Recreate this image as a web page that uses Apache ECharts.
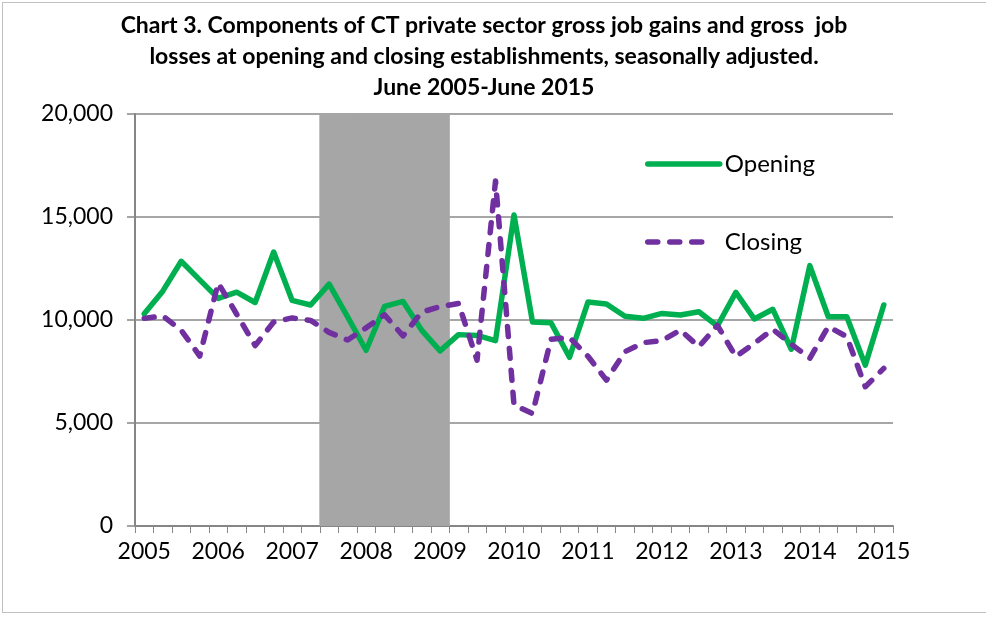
<!DOCTYPE html>
<html>
<head>
<meta charset="utf-8">
<script src="https://cdn.jsdelivr.net/npm/echarts@6/dist/echarts.min.js"></script>
<style>
	html, body { margin: 0; padding: 0; background: #fff; }
	#frame { position: absolute; left: 2px; top: 2px; width: 1000px; height: 609px; border: 1px solid #c0c0c0; }
	#myEchart { position: absolute; left: 0; top: 0; width: 986px; height: 617px; }
</style>
</head>
<body>
<div id="frame"></div>
<div id="myEchart"></div>
<script>
	// quarters, June 2005 - June 2015
	const quarters = [
		'2005-06', '2005-09', '2005-12', '2006-03', '2006-06', '2006-09', '2006-12',
		'2007-03', '2007-06', '2007-09', '2007-12', '2008-03', '2008-06', '2008-09', '2008-12',
		'2009-03', '2009-06', '2009-09', '2009-12', '2010-03', '2010-06', '2010-09', '2010-12',
		'2011-03', '2011-06', '2011-09', '2011-12', '2012-03', '2012-06', '2012-09', '2012-12',
		'2013-03', '2013-06', '2013-09', '2013-12', '2014-03', '2014-06', '2014-09', '2014-12',
		'2015-03', '2015-06'
	]
	const yearLabels = ['2005', '2006', '2007', '2008', '2009', '2010', '2011', '2012', '2013', '2014', '2015']
	const yTicks = [0, 5000, 10000, 15000, 20000]

	// recession shading (Dec 2007 - June 2009)
	const recessionQuarters = ['2007-12', '2008-03', '2008-06', '2008-09', '2008-12', '2009-03', '2009-06']

	const opening = [
		10300, 11400, 12850, 11950, 11050, 11350, 10850, 13300, 10950, 10730,
		11740, 10150, 8530, 10660, 10900, 9510, 8500, 9290, 9250, 9000,
		15100, 9900, 9870, 8190, 10870, 10780, 10180, 10080, 10320, 10240,
		10400, 9710, 11340, 10050, 10520, 8580, 12640, 10160, 10160, 7810,
		10730
	]
	const closing = [
		10080, 10200, 9500, 8250, 11800, 10280, 8760, 9900, 10100, 9980,
		9400, 9030, 9620, 10250, 9230, 10380, 10650, 10800, 8050, 16750,
		5870, 5460, 9060, 9150, 8240, 7080, 8460, 8900, 9000, 9510,
		8700, 9740, 8220, 8870, 9550, 8830, 8140, 9680, 9190, 6760,
		7650
	]

	const yMax = yTicks[yTicks.length - 1]
	const font = 'Lato'
	const lw = 5.5

	const chart = echarts.init(document.getElementById('myEchart'))
	const option = {
		animation: false,
		textStyle: { fontFamily: font },
		title: {
			text: 'Chart 3. Components of CT private sector gross job gains and gross  job\nlosses at opening and closing establishments, seasonally adjusted.\nJune 2005-June 2015',
			left: 479,
			top: 5,
			textAlign: 'center',
			textStyle: { fontFamily: font, fontSize: 23, fontWeight: 'bold', color: '#000', lineHeight: 31 }
		},
		legend: [{
			data: ['Opening'],
			left: 645,
			top: 152,
			padding: 0,
			itemWidth: 72,
			itemHeight: 24,
			itemStyle: { opacity: 0 },
			lineStyle: { width: lw },
			textStyle: { fontFamily: font, fontSize: 24, color: '#000' }
		}, {
			data: ['Closing'],
			left: 645,
			top: 230,
			padding: 0,
			itemWidth: 62,
			itemHeight: 24,
			itemStyle: { opacity: 0 },
			lineStyle: { width: lw },
			textStyle: { fontFamily: font, fontSize: 24, color: '#000', padding: [0, 0, 0, 10] }
		}],
		grid: { left: 135, right: 93, top: 114, bottom: 91 },
		xAxis: {
			type: 'category',
			data: quarters,
			boundaryGap: true,
			axisLine: { lineStyle: { color: '#868686', width: 2 } },
			axisTick: { show: true, interval: 0, length: 7, lineStyle: { color: '#868686', width: 1 } },
			axisLabel: {
				interval: 0,
				margin: 14,
				fontSize: 23,
				color: '#000',
				formatter: (v, idx) => idx % 4 === 0 ? yearLabels[idx / 4] : ''
			}
		},
		yAxis: {
			type: 'value',
			min: yTicks[0],
			max: yMax,
			interval: yTicks[1] - yTicks[0],
			axisLine: { show: true, lineStyle: { color: '#868686', width: 2 } },
			axisTick: { show: true, length: 8, lineStyle: { color: '#868686', width: 1.5 } },
			splitLine: { lineStyle: { color: '#a6a6a6', width: 2 } },
			axisLabel: {
				margin: 22,
				fontSize: 23,
				color: '#000',
				formatter: v => v.toLocaleString('en-US')
			}
		},
		series: [{
			name: 'Recession',
			type: 'bar',
			silent: true,
			barWidth: '106%',
			itemStyle: { color: '#a6a6a6' },
			data: quarters.map(q => recessionQuarters.includes(q) ? yMax : '-'),
			z: 1
		}, {
			name: 'Opening',
			type: 'line',
			symbol: 'none',
			data: opening,
			lineStyle: { color: '#00b050', width: lw, cap: 'round', join: 'round' },
			itemStyle: { color: '#00b050' },
			z: 3
		}, {
			name: 'Closing',
			type: 'line',
			symbol: 'none',
			data: closing,
			lineStyle: { color: '#7030a0', width: lw, type: [10, 12], cap: 'round', join: 'round' },
			itemStyle: { color: '#7030a0' },
			z: 4
		}]
	}
	chart.setOption(option)
</script>
</body>
</html>
